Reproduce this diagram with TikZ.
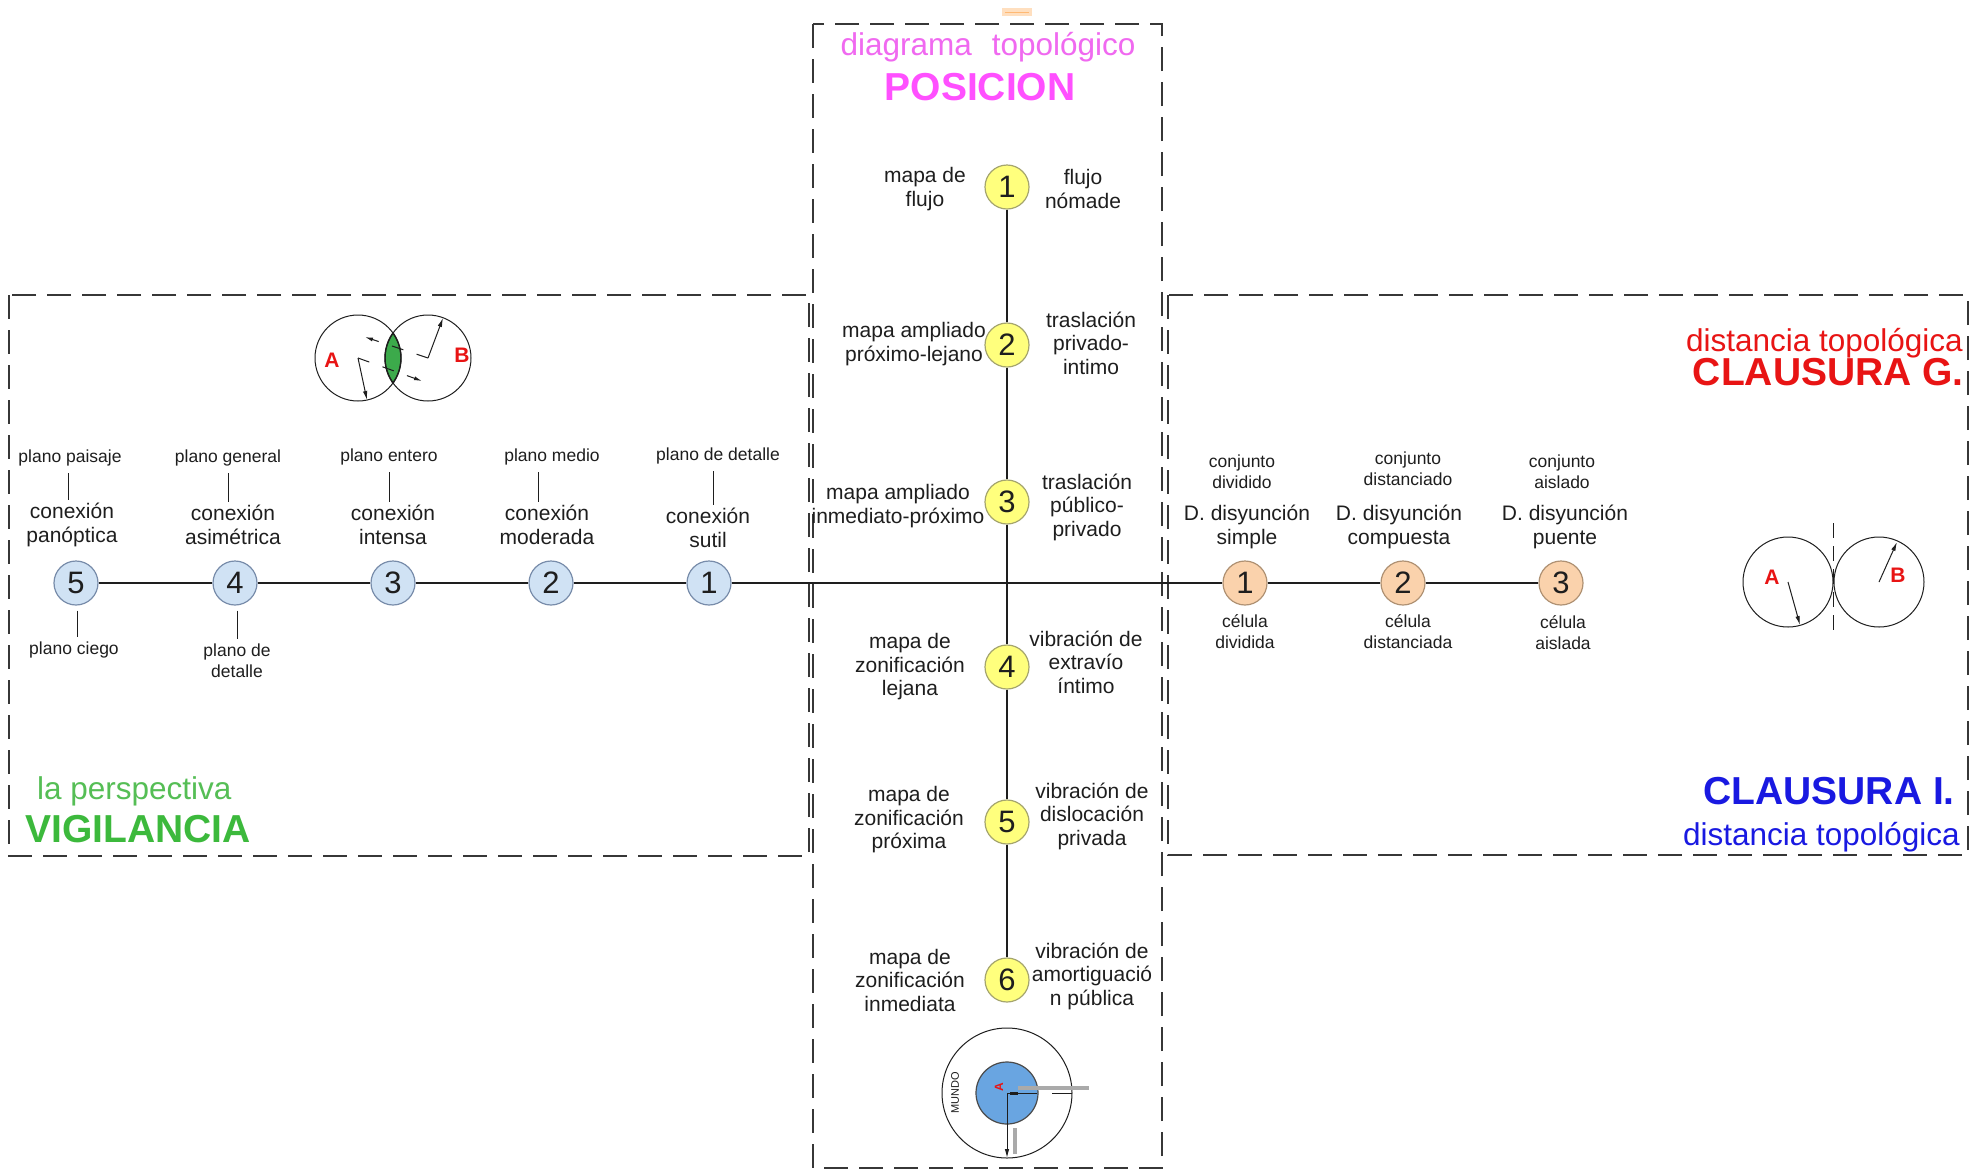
\documentclass[tikz,border=0pt]{standalone}
\usepackage{fontspec}
\setmainfont{Liberation Sans}
\usetikzlibrary{arrows.meta,calc}

% palette
\definecolor{ink}{RGB}{30,30,30}
\definecolor{framec}{RGB}{55,55,55}
\definecolor{cblue}{RGB}{208,226,244}
\definecolor{cblueline}{RGB}{120,140,170}
\definecolor{cpeach}{RGB}{250,210,172}
\definecolor{cpeachline}{RGB}{175,145,115}
\definecolor{cyel}{RGB}{255,255,125}
\definecolor{cyelline}{RGB}{165,165,110}
\definecolor{magL}{RGB}{240,105,240}
\definecolor{magB}{RGB}{255,80,255}
\definecolor{redc}{RGB}{232,20,20}
\definecolor{bluet}{RGB}{25,25,225}
\definecolor{greenL}{RGB}{85,190,85}
\definecolor{greenB}{RGB}{60,185,60}
\definecolor{lensg}{RGB}{60,170,75}
\definecolor{mundob}{RGB}{105,165,225}
\definecolor{barg}{RGB}{170,170,170}

% type sizes
\newcommand{\fsmain}{\fontsize{21}{23.5}\selectfont}
\newcommand{\fssmall}{\fontsize{17.5}{21}\selectfont}
\newcommand{\fsnum}{\fontsize{31}{31}\selectfont}
\newcommand{\fshead}{\fontsize{31.5}{34}\selectfont}
\newcommand{\fstitle}{\fontsize{39}{42}\selectfont\bfseries}
\newcommand{\fsletter}{\fontsize{21}{21}\selectfont\bfseries}

\tikzset{
  panel/.style={draw=framec, line width=1.3pt, dash pattern=on 24pt off 11pt},
  axis/.style={draw=ink, line width=1.5pt},
  tickline/.style={draw=ink, line width=1pt},
  numc/.style={circle, minimum size=44pt, inner sep=0pt, line width=1.2pt, font=\fsnum, text=ink},
  bluec/.style={numc, fill=cblue, draw=cblueline},
  peachc/.style={numc, fill=cpeach, draw=cpeachline},
  yelc/.style={numc, fill=cyel, draw=cyelline},
  lbl/.style={font=\fsmain, text=ink, align=center, inner sep=0pt},
  sml/.style={font=\fssmall, text=ink, align=center, inner sep=0pt},
  hdr/.style={font=\fshead, inner sep=0pt},
  ttl/.style={font=\fstitle, inner sep=0pt},
  ring/.style={draw=ink, line width=1pt},
  radarrow/.style={draw=ink, line width=1pt, -{Latex[length=9pt,width=4.5pt]}},
  dasharrow/.style={draw=ink, line width=1pt, dash pattern=on 12pt off 14pt, -{Latex[length=8pt,width=4pt]}},
  vletter/.style={font=\fsletter, text=redc, inner sep=0pt}
}

\begin{document}
\begin{tikzpicture}[x=1pt,y=-1pt]
\useasboundingbox (0,0) rectangle (1979,1171);
\fill[white] (0,0) rectangle (1979,1171);

% faint mark above the central panel
\fill[orange!25] (1002,8) rectangle (1032,16);
\draw[orange!55, line width=0.8pt] (1005,12) -- (1029,12);

% dashed panels
\draw[panel] (9,295) rectangle (809,856);
\draw[panel] (1168,295) rectangle (1968,855);
\draw[panel] (813,24) rectangle (1162,1168);

% panel titles
\node[hdr, anchor=base, text=magL] (posA) at (988,55) {diagrama\hspace{0.63em}topológico};
\node[ttl, anchor=base, text=magB] (posB) at (980,100) {POSICION};
\node[hdr, anchor=base east, text=redc] (cgA) at (1963,351) {distancia topológica};
\node[ttl, anchor=base east, text=redc] (cgB) at (1964,385) {CLAUSURA G.};
\node[ttl, anchor=base east, text=bluet] (ciA) at (1955,804) {CLAUSURA I.};
\node[hdr, anchor=base east, text=bluet] (ciB) at (1960,845) {distancia topológica};
\node[hdr, anchor=base west, text=greenL] (vgA) at (37,799) {la perspectiva};
\node[ttl, anchor=base west, text=greenB] (vgB) at (25,842) {VIGILANCIA};

% ---------- horizontal scale: vigilancia ----------
\node[bluec] (h5) at (76,583) {5};
\node[bluec] (h4) at (235,583) {4};
\node[bluec] (h3) at (393,583) {3};
\node[bluec] (h2) at (551,583) {2};
\node[bluec] (h1) at (709,583) {1};

\node[sml] (pp5) at (70,458) {plano paisaje};
\node[sml] (pp4) at (228,458) {plano general};
\node[sml] (pp3) at (389,457) {plano entero};
\node[sml] (pp2) at (552,457) {plano medio};
\node[sml] (pp1) at (718,456) {plano de detalle};

\node[lbl] (cx5) at (72,525) {conexión\\panóptica};
\node[lbl] (cx4) at (233,525) {conexión\\asimétrica};
\node[lbl] (cx3) at (393,525) {conexión\\intensa};
\node[lbl] (cx2) at (547,525) {conexión\\moderada};
\node[lbl] (cx1) at (708,528) {conexión\\sutil};

\node[sml] (pb5) at (74,650) {plano ciego};
\node[sml] (pb4) at (237,661) {plano de\\detalle};

% ticks between the shot labels and the connection labels
\foreach \i/\dx in {5/-2,4/0,3/0,2/-14,1/-5}{
  \coordinate (ta\i) at ([xshift=\dx pt,yshift=-7pt]pp\i.south);
  \coordinate (tb\i) at (ta\i |- cx\i.north);
  \draw[tickline] (ta\i) -- ([yshift=3pt]tb\i);
}
\coordinate (bb5) at ([xshift=1pt]h5.south |- pb5.north);
\draw[tickline] ([xshift=1pt,yshift=-5pt]h5.south) -- ([yshift=5pt]bb5);
\coordinate (bb4) at ([xshift=2pt]h4.south |- pb4.north);
\draw[tickline] ([xshift=2pt,yshift=-5pt]h4.south) -- ([yshift=5pt]bb4);

% ---------- horizontal scale: clausura ----------
\node[peachc] (r1) at (1245,583) {1};
\node[peachc] (r2) at (1403,583) {2};
\node[peachc] (r3) at (1561,583) {3};

\node[sml] (cj1) at (1242,472) {conjunto\\dividido};
\node[sml] (cj2) at (1408,469) {conjunto\\distanciado};
\node[sml] (cj3) at (1562,472) {conjunto\\aislado};

\node[lbl] (dd1) at (1247,527) {D. disyunción\\simple};
\node[lbl] (dd2) at (1399,527) {D. disyunción\\compuesta};
\node[lbl] (dd3) at (1565,527) {D. disyunción\\puente};

\node[sml] (ce1) at (1245,632) {célula\\dividida};
\node[sml] (ce2) at (1408,632) {célula\\distanciada};
\node[sml] (ce3) at (1563,633) {célula\\aislada};

% ---------- vertical scale: posicion ----------
\node[yelc] (v1) at (1007,187) {1};
\node[yelc] (v2) at (1007,345) {2};
\node[yelc] (v3) at (1007,502) {3};
\node[yelc] (v4) at (1007,667) {4};
\node[yelc] (v5) at (1007,822) {5};
\node[yelc] (v6) at (1007,980) {6};

\node[lbl] (ml1) at (925,189) {mapa de\\flujo};
\node[lbl] (ml2) at (914,344) {mapa ampliado\\próximo-lejano};
\node[lbl] (ml3) at (898,506) {mapa ampliado\\inmediato-próximo};
\node[lbl] (ml4) at (910,667) {mapa de\\zonificación\\lejana};
\node[lbl] (ml5) at (909,820) {mapa de\\zonificación\\próxima};
\node[lbl] (ml6) at (910,980) {mapa de\\zonificación\\inmediata};

\node[lbl] (mr1) at (1083,189) {flujo\\nómade};
\node[lbl] (mr2) at (1091,343) {traslación\\privado-\\intimo};
\node[lbl] (mr3) at (1087,507) {traslación\\público-\\privado};
\node[lbl] (mr4) at (1086,662) {vibración de\\extravío\\íntimo};
\node[lbl] (mr5) at (1092,816) {vibración de\\dislocación\\privada};
\node[lbl] (mr6) at (1092,976) {vibración de\\amortiguació\\n pública};

% axes
\draw[axis] (h5) -- (h4) -- (h3) -- (h2) -- (h1) -- (r1) -- (r2) -- (r3);
\draw[axis] (v1) -- (v2) -- (v3) -- (v4) -- (v5) -- (v6);

% ---------- overlapping circles (vigilancia) ----------
\coordinate (vA) at (358,358);
\coordinate (vB) at (428,358);
\begin{scope}
  \clip (vA) circle (43pt);
  \fill[lensg] (vB) circle (43pt);
  \draw[ink, line width=1.4pt] (vB) circle (43pt);
\end{scope}
\begin{scope}
  \clip (vB) circle (43pt);
  \draw[ink, line width=1.4pt] (vA) circle (43pt);
\end{scope}
\draw[ring] (vA) circle (43pt);
\draw[ring] (vB) circle (43pt);
\coordinate (vAr) at (367,400);
\coordinate (vBr) at (443,318);
\coordinate (vAx) at (422,381);
\coordinate (vBx) at (365,337);
\draw[radarrow] (vA) -- (vAr);
\draw[radarrow] (vB) -- (vBr);
\draw[dasharrow] (vA) -- (vAx);
\draw[dasharrow] (vB) -- (vBx);
\node[vletter] (vlA) at (332,360) {A};
\node[vletter] (vlB) at (462,355) {B};

% ---------- tangent circles (clausura G.) ----------
\coordinate (gA) at (1788,582);
\coordinate (gB) at (1879,582);
\draw[ring] (gA) circle (45pt);
\draw[ring] (gB) circle (45pt);
\coordinate (gTop) at (1833.5,523);
\coordinate (gBot) at (1833.5,634);
\draw[draw=ink, line width=1pt, dash pattern=on 15pt off 8pt] (gTop) -- (gBot);
\coordinate (gAr) at (1800,625);
\coordinate (gBr) at (1897,542);
\draw[radarrow] (gA) -- (gAr);
\draw[radarrow] (gB) -- (gBr);
\node[vletter] (glA) at (1772,577) {A};
\node[vletter] (glB) at (1898,575) {B};

% ---------- mundo ----------
\coordinate (mC) at (1007,1093);
\draw[ring] (mC) circle (65pt);
\fill[mundob] (mC) circle (31pt);
\draw[draw=ink!80, line width=1.2pt] (mC) circle (31pt);
\coordinate (mg1) at (1018,1088);
\coordinate (mg2) at (1089,1088);
\draw[barg, line width=4pt] (mg1) -- (mg2);
\coordinate (mg3) at (1015,1128);
\coordinate (mg4) at (1015,1154);
\draw[barg, line width=4pt] (mg3) -- (mg4);
\coordinate (mh1) at (1037,1093);
\coordinate (mh2) at (1052,1093);
\coordinate (mh3) at (1072,1093);
\draw[ink, line width=1pt] (mC) -- (mh1);
\draw[ink, line width=1pt] (mh2) -- (mh3);
\fill[ink] (1010,1091.5) rectangle (1018,1094.5);
\coordinate (mBot) at (1007,1158);
\draw[radarrow] (mC) -- (mBot);
\node[font=\fontsize{11}{11}\selectfont, text=ink, rotate=90, inner sep=0pt] (mw) at (955,1093) {MUNDO};
\node[font=\fontsize{12}{12}\selectfont\bfseries, text=redc, rotate=90, inner sep=0pt] (ma) at (999,1087) {A};

\end{tikzpicture}
\end{document}
